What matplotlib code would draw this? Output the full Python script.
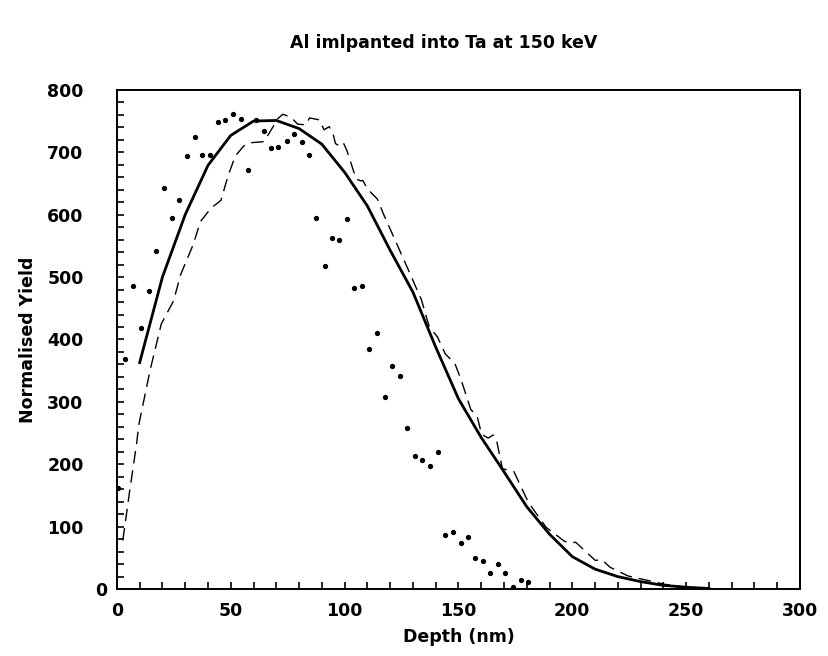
import numpy as np
import matplotlib
matplotlib.use("Agg")
import matplotlib.pyplot as plt
import matplotlib.transforms as mtransforms
from matplotlib.ticker import MultipleLocator


# ==========================================
# Data
# ==========================================

# measured profile (dots)
meas_depth = [0.5, 3.6, 7.1, 10.4, 14.0, 17.0, 20.6, 24.0, 27.4, 30.8,
              34.3, 37.4, 40.7, 44.3, 47.5, 51.0, 54.3, 57.6, 61.0, 64.6,
              67.9, 70.8, 74.5, 77.8, 81.4, 84.5, 87.6, 91.2, 94.4, 97.6,
              101.0, 104.3, 107.6, 110.9, 114.3, 117.6, 121.0, 124.3, 127.5, 131.0,
              134.2, 137.5, 141.0, 144.0, 147.6, 151.0, 154.2, 157.3, 160.6, 163.9,
              167.3, 170.6, 174.0, 177.3, 180.6]
meas_yield = [162, 369, 486, 418, 478, 541, 642, 594, 624, 694,
              724, 695, 695, 749, 751, 762, 753, 671, 752, 734,
              707, 709, 718, 729, 716, 695, 594, 518, 562, 559,
              593, 482, 485, 384, 411, 308, 357, 341, 258, 214,
              207, 197, 219, 87, 92, 74, 84, 50, 45, 26,
              41, 26, 4, 15, 11]

# fitted profile (solid)
fit_depth = [10, 20, 30, 40, 50, 60, 70, 80, 90, 100,
             110, 120, 130, 140, 150, 160, 170, 180, 190, 200,
             210, 220, 230, 240, 250, 260]
fit_yield = [363, 500, 600, 679, 727, 750, 751, 738, 713, 668,
             614, 543, 476, 388, 305, 243, 188, 132, 88, 52,
             32, 20, 12, 6, 3, 1]

# simulated profile (dashed)
sim_depth = [2.6, 5.6, 8.7, 9.6, 14.6, 19.5, 24.9, 28.0, 33.5, 36.7,
             41.2, 45.7, 48.8, 52.0, 55.7, 57.9, 64.5, 66.8, 70.7, 72.9,
             76.5, 79.4, 83.0, 84.6, 88.9, 91.0, 93.2, 94.7, 96.0, 98.2,
             99.6, 101.0, 105.1, 107.3, 108.0, 110.1, 114.4, 117.2, 122.7, 128.3,
             133.8, 137.2, 140.8, 144.2, 148.5, 151.3, 155.4, 158.2, 160.2, 163.1,
             165.3, 166.7, 169.3, 174.4, 180.7, 188.5, 196.4, 198.5, 201.5, 203.6,
             210.1, 213.0, 216.6, 224.5, 231.8, 240.0, 250.0, 260.0]
sim_yield = [78, 157, 234, 263, 351, 425, 462, 504, 552, 589,
             610, 623, 662, 694, 710, 715, 717, 730, 754, 761,
             756, 745, 744, 755, 752, 736, 741, 733, 714, 709,
             714, 703, 657, 654, 655, 641, 625, 600, 555, 509,
             463, 420, 404, 377, 361, 334, 288, 277, 248, 242,
             247, 239, 193, 188, 139, 99, 77, 74, 75, 68,
             46, 47, 35, 21, 15, 8, 3, 1]

TITLE = "Al imlpanted into Ta at 150 keV"
X_LABEL = "Depth (nm)"
Y_LABEL = "Normalised Yield"


# ==========================================
# Plot
# ==========================================

plt.rcParams["font.family"] = ["DejaVu Sans"]
plt.rcParams["font.weight"] = "bold"

fig = plt.figure(figsize=(8.29, 6.56), dpi=100)
ax = fig.add_axes([0.141, 0.102, 0.824, 0.761])

ax.plot(meas_depth, meas_yield, linestyle="none", marker="o",
        markersize=2.8, color="black")
ax.plot(fit_depth, fit_yield, color="black", linewidth=2.0)
ax.plot(sim_depth, sim_yield, color="black", linewidth=1.0,
        dashes=(9, 5))

ax.set_xlim(0, 300)
ax.set_ylim(0, 800)

ax.xaxis.set_major_locator(MultipleLocator(50))
ax.xaxis.set_minor_locator(MultipleLocator(10))
ax.yaxis.set_major_locator(MultipleLocator(100))
ax.yaxis.set_minor_locator(MultipleLocator(20))

ax.tick_params(which="both", direction="in", length=5, width=1.2,
               top=False, right=False, labelsize=12.5)
ax.tick_params(axis="x", pad=9)
ax.tick_params(axis="y", pad=24)

for lab in ax.get_xticklabels() + ax.get_yticklabels():
    lab.set_fontweight("bold")

# the y-axis zero sits tucked in next to the corner
fig.canvas.draw()
zero_shift = mtransforms.ScaledTranslation(0.24, 0, fig.dpi_scale_trans)
for tick in ax.yaxis.get_major_ticks():
    if tick.get_loc() == 0:
        tick.label1.set_transform(tick.label1.get_transform() + zero_shift)

for spine in ax.spines.values():
    spine.set_linewidth(1.4)

ax.set_xlabel(X_LABEL, fontsize=12.5, fontweight="bold", labelpad=6)
ax.set_ylabel(Y_LABEL, fontsize=12.5, fontweight="bold", labelpad=7)
fig.text(0.535, 0.935, TITLE, ha="center", va="center",
         fontsize=12.5, fontweight="bold")

fig.savefig("out.png", dpi=100)
